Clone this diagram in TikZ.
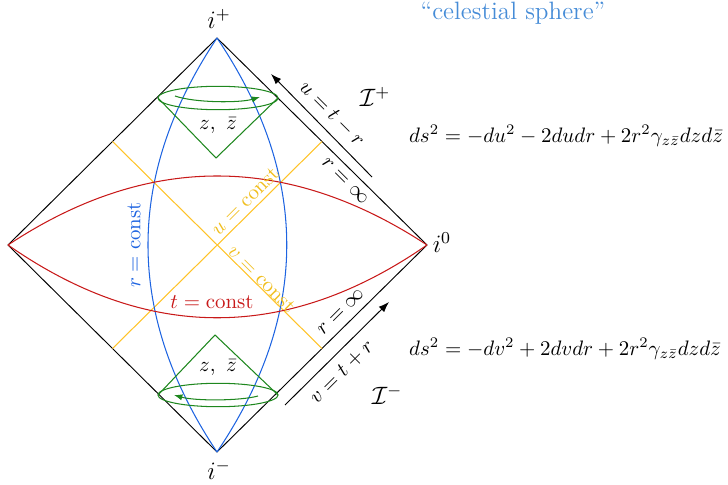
\documentclass[tikz,border=0pt]{standalone}
\usetikzlibrary{arrows.meta,calc}
\definecolor{rblue}{RGB}{30,100,225}
\definecolor{cblue}{RGB}{70,140,215}
\definecolor{tred}{RGB}{200,25,25}
\definecolor{uyel}{RGB}{255,195,40}
\definecolor{uytxt}{RGB}{240,190,30}
\definecolor{cgreen}{RGB}{30,135,30}
\begin{document}
\begin{tikzpicture}[x=0.478pt,y=-0.478pt,
  edge/.style={black,line width=0.45pt},
  rcurve/.style={rblue,line width=0.5pt},
  tcurve/.style={tred,line width=0.5pt},
  ucurve/.style={uyel,line width=0.5pt},
  cone/.style={cgreen,line width=0.5pt},
  lbl/.style={inner sep=1pt},
  arr/.style={black,line width=0.45pt,-{Latex[length=5pt,width=3.6pt]}}]
\useasboundingbox (0,0) rectangle (728,485);
% diamond
\coordinate (T) at (217,38);
\coordinate (B) at (217,452);
\coordinate (L) at (8,245);
\coordinate (R) at (427,245);
\draw[edge] (L) -- (T) -- (R) -- (B) -- cycle;
% yellow null lines
\coordinate (mUL) at ($(L)!0.5!(T)$);
\coordinate (mUR) at ($(T)!0.5!(R)$);
\coordinate (mLR) at ($(R)!0.5!(B)$);
\coordinate (mLL) at ($(B)!0.5!(L)$);
\draw[ucurve] (mUL) -- (mLR);
\draw[ucurve] (mLL) -- (mUR);
% blue r=const
\draw[rcurve] (T) .. controls (125,176) and (125,314) .. (B);
\draw[rcurve] (T) .. controls (310,176) and (310,314) .. (B);
% red t=const
\draw[tcurve] (L) .. controls (147,153) and (287,153) .. (R);
\draw[tcurve] (L) .. controls (147,342) and (287,342) .. (R);
% upper cone
\coordinate (ua) at (216,158);
\coordinate (ul) at (158,98);
\coordinate (ur) at (278,98);
\draw[cone] (218,98) ellipse [x radius=28.7pt, y radius=5.6pt];
\draw[cone] (ul) -- (ua) -- (ur);
\coordinate (uas) at (175,96);
\coordinate (uae) at (260,97);
\draw[cone,-{Latex[length=4pt,width=3pt]}] (uas) .. controls (195,103) and (240,103) .. (uae);
\node[lbl] (zu) at (218,126) {$z,\ \bar z$};
% lower cone
\coordinate (la) at (215,335);
\coordinate (ll) at (158,395);
\coordinate (lr) at (278,395);
\draw[cone] (218,395) ellipse [x radius=28.7pt, y radius=5.6pt];
\draw[cone] (ll) -- (la) -- (lr);
\coordinate (las) at (174,395);
\coordinate (lae) at (258,396);
\draw[cone,{Latex[length=4pt,width=3pt]}-] (las) .. controls (195,401) and (240,401) .. (lae);
\node[lbl] (zl) at (218,368) {$z,\ \bar z$};
% vertex labels
\node[lbl,font=\large] (ip) at (219,19) {$i^+$};
\node[lbl,font=\large] (im) at (219,470) {$i^-$};
\node[lbl,font=\large] (i0) at (442,243) {$i^0$};
% arrows
\coordinate (a1s) at (372,177);
\coordinate (a1e) at (271,74);
\draw[arr] (a1s) -- (a1e);
\coordinate (a2s) at (285,405);
\coordinate (a2e) at (389,302);
\draw[arr] (a2s) -- (a2e);
\node[lbl,rotate=-45] (ueq) at (332,114) {$u=t-r$};
\node[lbl,rotate=45] (veq) at (342,372) {$v=t+r$};
\node[lbl,rotate=-45] (rinf1) at (345,181) {$r=\infty$};
\node[lbl,rotate=45] (rinf2) at (341,312) {$r=\infty$};
\node[lbl,font=\large] (scrip) at (375,97) {$\mathcal{I}^+$};
\node[lbl,font=\large] (scrim) at (387,395) {$\mathcal{I}^-$};
% curve labels
\node[lbl,rblue,rotate=90] (rc) at (134,245) {$r=\mathrm{const}$};
\node[lbl,tred] (tc) at (212,302) {$t=\mathrm{const}$};
\node[lbl,uytxt,rotate=45] (uc) at (245,201) {$u=\mathrm{const}$};
\node[lbl,uytxt,rotate=-45] (vc) at (262,279) {$v=\mathrm{const}$};
% metrics
\node[lbl] (m1) at (566,136) {$ds^2=-du^2-2dudr+2r^2\gamma_{z\bar z}dzd\bar z$};
\node[lbl] (m2) at (565,349) {$ds^2=-dv^2+2dvdr+2r^2\gamma_{z\bar z}dzd\bar z$};
\node[lbl,cblue,font=\large] (cs) at (513,13) {``celestial sphere''};
\end{tikzpicture}
\end{document}
